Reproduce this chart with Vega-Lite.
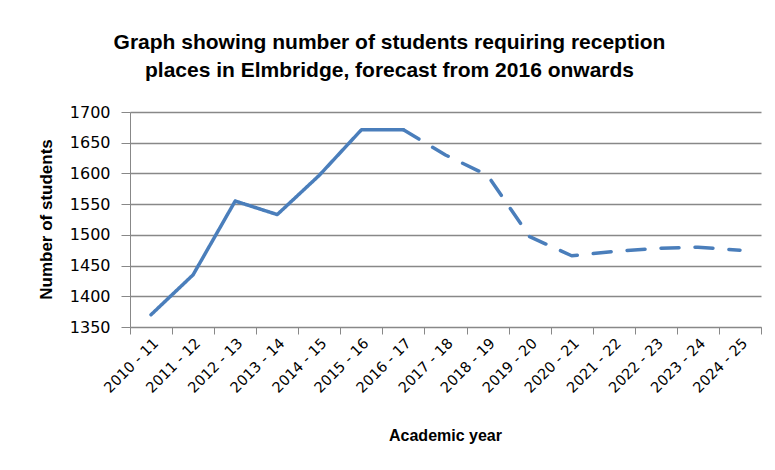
{
  "$schema": "https://vega.github.io/schema/vega-lite/v6.json",
  "width": 631,
  "height": 215,
  "autosize": {"type": "none"},
  "padding": {"left": 130, "top": 112, "right": 14, "bottom": 143},
  "background": "white",
  "title": {
    "text": ["Graph showing number of students requiring reception", "places in Elmbridge, forecast from 2016 onwards"],
    "font": "Liberation Sans",
    "fontSize": 21,
    "fontWeight": "bold",
    "color": "#000000",
    "lineHeight": 28,
    "anchor": "middle",
    "dx": -56,
    "offset": 23
  },
  "data": {
    "values": [
      {"year": "2010 - 11", "students": 1370, "series": "actual"},
      {"year": "2011 - 12", "students": 1435, "series": "actual"},
      {"year": "2012 - 13", "students": 1555, "series": "actual"},
      {"year": "2013 - 14", "students": 1533, "series": "actual"},
      {"year": "2014 - 15", "students": 1597, "series": "actual"},
      {"year": "2015 - 16", "students": 1671, "series": "actual"},
      {"year": "2016 - 17", "students": 1671, "series": "actual"},
      {"year": "2016 - 17", "students": 1671, "series": "forecast"},
      {"year": "2017 - 18", "students": 1630, "series": "forecast"},
      {"year": "2018 - 19", "students": 1597, "series": "forecast"},
      {"year": "2019 - 20", "students": 1497, "series": "forecast"},
      {"year": "2020 - 21", "students": 1466, "series": "forecast"},
      {"year": "2021 - 22", "students": 1473, "series": "forecast"},
      {"year": "2022 - 23", "students": 1478, "series": "forecast"},
      {"year": "2023 - 24", "students": 1480, "series": "forecast"},
      {"year": "2024 - 25", "students": 1475, "series": "forecast"}
    ]
  },
  "mark": {"type": "line", "color": "#4a7ebb", "strokeWidth": 3.5, "strokeCap": "round", "strokeJoin": "round"},
  "encoding": {
    "x": {
      "field": "year",
      "type": "ordinal",
      "sort": null,
      "scale": {"type": "band", "paddingInner": 0, "paddingOuter": 0},
      "axis": {
        "title": "Academic year",
        "titleFont": "Liberation Sans",
        "titleFontSize": 16,
        "titleFontWeight": "bold",
        "titleColor": "#000000",
        "titleY": 100,
        "titleX": 315,
        "labelAngle": -45,
        "labelFont": "DejaVu Sans",
        "labelFontSize": 14.5,
        "labelColor": "#000000",
        "labelPadding": 2,
        "tickBand": "extent",
        "tickColor": "#888888",
        "tickSize": 7,
        "domainColor": "#888888",
        "grid": false
      }
    },
    "y": {
      "field": "students",
      "type": "quantitative",
      "scale": {"domain": [1350, 1700], "nice": false, "zero": false},
      "axis": {
        "title": "Number of students",
        "titleFont": "Liberation Sans",
        "titleFontSize": 17,
        "titleFontWeight": "bold",
        "titleColor": "#000000",
        "titleX": -75,
        "titleY": 107,
        "values": [1350, 1400, 1450, 1500, 1550, 1600, 1650, 1700],
        "format": "d",
        "labelFont": "DejaVu Sans",
        "labelFontSize": 16,
        "labelColor": "#000000",
        "labelPadding": 11,
        "tickColor": "#888888",
        "tickSize": 9,
        "domainColor": "#888888",
        "gridColor": "#888888",
        "gridWidth": 1.3
      }
    },
    "strokeDash": {
      "field": "series",
      "type": "nominal",
      "scale": {"domain": ["actual", "forecast"], "range": [[1, 0], [18, 16]]},
      "legend": null
    }
  },
  "config": {"view": {"stroke": null}}
}
